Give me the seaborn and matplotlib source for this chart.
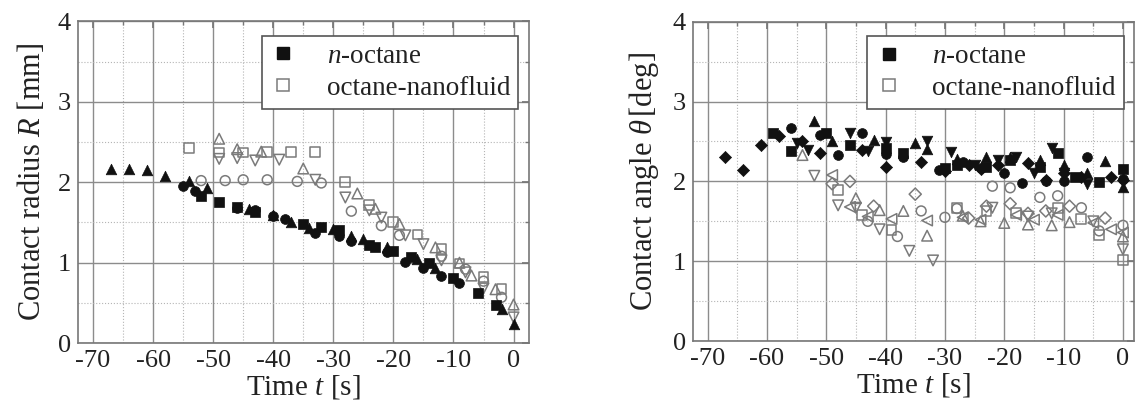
import numpy as np
import pandas as pd
import matplotlib.pyplot as plt
import matplotlib.ticker as mticker
from matplotlib.lines import Line2D
import seaborn as sns

# --- axis ticks ---
x_ticks = [-70, -60, -50, -40, -30, -20, -10, 0]
x_tick_labels = ['-70', '-60', '-50', '-40', '-30', '-20', '-10', '0']
y_ticks = [0, 1, 2, 3, 4]
y_tick_labels = ['0', '1', '2', '3', '4']

# --- contact radius R [mm], n-octane (three runs) ---
r_oct_tri_t = [-67, -64, -61, -58, -54, -51, -44, -40, -37, -34, -30, -27, -25, -21, -16, -13, -2, 0]
r_oct_tri = [2.16, 2.17, 2.15, 2.08, 2.02, 1.93, 1.67, 1.59, 1.50, 1.43, 1.42, 1.33, 1.30, 1.20, 1.04, 0.94, 0.43, 0.24]
r_oct_cir_t = [-55, -53, -46, -43, -40, -38, -33, -29, -27, -21, -18, -15, -12, -9]
r_oct_cir = [1.95, 1.89, 1.68, 1.65, 1.58, 1.54, 1.37, 1.33, 1.27, 1.13, 1.01, 0.94, 0.84, 0.75]
r_oct_sq_t = [-52, -49, -46, -43, -35, -32, -29, -24, -23, -20, -17, -14, -10, -6, -3]
r_oct_sq = [1.83, 1.75, 1.69, 1.63, 1.48, 1.44, 1.40, 1.22, 1.20, 1.15, 1.07, 0.99, 0.81, 0.62, 0.47]

# --- contact radius R [mm], octane-nanofluid (four runs) ---
r_nano_sq_t = [-54, -49, -45, -41, -37, -33, -28, -24, -20, -16, -12, -9, -5, -2]
r_nano_sq = [2.43, 2.37, 2.37, 2.38, 2.38, 2.38, 2.00, 1.72, 1.51, 1.35, 1.17, 0.99, 0.82, 0.67]
r_nano_tri_t = [-49, -46, -42, -35, -26, -23, -19, -13, -9, -7, -3, 0]
r_nano_tri = [2.54, 2.41, 2.38, 2.17, 1.86, 1.67, 1.48, 1.19, 1.00, 0.84, 0.67, 0.48]
r_nano_dn_t = [-49, -46, -43, -39, -33, -28, -24, -22, -18, -15, -12, -8, -5, 0]
r_nano_dn = [2.29, 2.30, 2.27, 2.28, 2.03, 1.81, 1.65, 1.56, 1.34, 1.23, 1.03, 0.88, 0.68, 0.32]
r_nano_cir_t = [-52, -48, -45, -41, -36, -32, -27, -22, -19, -12, -8, -5, -2]
r_nano_cir = [2.02, 2.02, 2.03, 2.03, 2.01, 1.99, 1.64, 1.46, 1.34, 1.08, 0.92, 0.77, 0.57]

# --- contact angle theta [deg], n-octane (five runs) ---
a_oct_dia_t = [-67, -64, -61, -58, -54, -51, -44, -40, -34, -30, -26, -24, -21, -16, -13, -10, -7, -2, 0]
a_oct_dia = [2.30, 2.14, 2.45, 2.57, 2.50, 2.36, 2.39, 2.18, 2.24, 2.13, 2.20, 2.16, 2.20, 2.23, 2.02, 2.10, 2.06, 2.05, 2.02]
a_oct_sq_t = [-59, -56, -50, -46, -40, -37, -30, -28, -23, -19, -14, -11, -8, -4, 0]
a_oct_sq = [2.61, 2.38, 2.60, 2.46, 2.42, 2.36, 2.17, 2.21, 2.18, 2.27, 2.18, 2.35, 2.06, 1.99, 2.16]
a_oct_cir_t = [-56, -51, -48, -44, -40, -37, -31, -27, -24, -20, -17, -13, -10, -6, 0]
a_oct_cir = [2.67, 2.58, 2.33, 2.60, 2.34, 2.31, 2.14, 2.24, 2.17, 2.11, 1.98, 2.00, 2.00, 2.31, 2.03]
a_oct_tri_t = [-52, -49, -42, -35, -33, -28, -23, -19, -14, -10, -6, -3, 0]
a_oct_tri = [2.75, 2.50, 2.52, 2.48, 2.40, 2.28, 2.31, 2.30, 2.27, 2.20, 2.10, 2.26, 1.93]
a_oct_dn_t = [-55, -53, -46, -43, -40, -33, -29, -25, -21, -18, -15, -12, -10, -6]
a_oct_dn = [2.48, 2.39, 2.60, 2.38, 2.49, 2.50, 2.37, 2.21, 2.27, 2.30, 2.10, 2.42, 2.10, 1.97]

# --- contact angle theta [deg], octane-nanofluid (six runs) ---
a_nano_dn_t = [-52, -48, -45, -41, -36, -32, -22, -16, -12, -5, 0]
a_nano_dn = [2.07, 1.70, 1.67, 1.40, 1.13, 1.01, 1.67, 1.56, 1.60, 1.50, 1.15]
a_nano_lt_t = [-49, -46, -43, -39, -33, -27, -24, -18, -15, -11, -5, -2, 0]
a_nano_lt = [2.08, 1.68, 1.56, 1.53, 1.51, 1.55, 1.52, 1.58, 1.52, 1.58, 1.48, 1.40, 1.36]
a_nano_dia_t = [-49, -46, -42, -35, -26, -23, -19, -16, -13, -9, -3]
a_nano_dia = [1.97, 2.00, 1.69, 1.84, 1.54, 1.69, 1.72, 1.60, 1.63, 1.69, 1.54]
a_nano_sq_t = [-48, -44, -39, -28, -23, -18, -11, -7, -4, 0]
a_nano_sq = [1.89, 1.58, 1.39, 1.67, 1.63, 1.60, 1.67, 1.53, 1.33, 1.02]
a_nano_tri_t = [-54, -45, -41, -37, -33, -27, -24, -20, -16, -12, -9, 0]
a_nano_tri = [2.33, 1.79, 1.64, 1.63, 1.32, 1.57, 1.50, 1.48, 1.46, 1.45, 1.49, 1.31]
a_nano_cir_t = [-43, -38, -34, -30, -28, -22, -19, -14, -11, -7, -4, 0]
a_nano_cir = [1.50, 1.31, 1.63, 1.55, 1.66, 1.94, 1.92, 1.80, 1.82, 1.67, 1.38, 1.45]


def runs(panel, fluid, pieces):
    frames = []
    for marker, t, v in pieces:
        frames.append(pd.DataFrame({'panel': panel, 'fluid': fluid, 'marker': marker, 't': t, 'v': v}))
    return frames


df = pd.concat(
    runs('R', 'oct', [('^', r_oct_tri_t, r_oct_tri), ('o', r_oct_cir_t, r_oct_cir), ('s', r_oct_sq_t, r_oct_sq)])
    + runs('R', 'nano', [('s', r_nano_sq_t, r_nano_sq), ('^', r_nano_tri_t, r_nano_tri),
                         ('v', r_nano_dn_t, r_nano_dn), ('o', r_nano_cir_t, r_nano_cir)])
    + runs('A', 'oct', [('D', a_oct_dia_t, a_oct_dia), ('s', a_oct_sq_t, a_oct_sq), ('o', a_oct_cir_t, a_oct_cir),
                        ('^', a_oct_tri_t, a_oct_tri), ('v', a_oct_dn_t, a_oct_dn)])
    + runs('A', 'nano', [('v', a_nano_dn_t, a_nano_dn), ('<', a_nano_lt_t, a_nano_lt), ('D', a_nano_dia_t, a_nano_dia),
                         ('s', a_nano_sq_t, a_nano_sq), ('^', a_nano_tri_t, a_nano_tri), ('o', a_nano_cir_t, a_nano_cir)]),
    ignore_index=True)

sns.set_theme(style='white')
plt.rcParams['font.family'] = 'serif'
plt.rcParams['font.serif'] = ['Liberation Serif', 'DejaVu Serif']
plt.rcParams['mathtext.fontset'] = 'custom'
plt.rcParams['mathtext.rm'] = 'Liberation Serif'
plt.rcParams['mathtext.it'] = 'Liberation Serif:italic'
plt.rcParams['axes.unicode_minus'] = False

BLACK = '#111111'
GRAY = '#7a7a7a'
sizes = {'s': 50, '^': 58, 'v': 58, '<': 58, 'o': 50, 'D': 38}

fig = plt.figure(figsize=(11.35, 4.09), dpi=100)
ax1 = fig.add_axes([0.0687, 0.161, 0.397, 0.787])
ax2 = fig.add_axes([0.6103, 0.166, 0.389, 0.781])

for ax, panel, xmax in [(ax1, 'R', 2.5), (ax2, 'A', 1.9)]:
    sub = df[df['panel'] == panel]
    # open gray markers first, black on top
    for mk, g in sub[sub['fluid'] == 'nano'].groupby('marker', sort=False):
        sns.scatterplot(data=g, x='t', y='v', marker=mk, s=sizes[mk], color=GRAY,
                        facecolor='none', edgecolor=GRAY, linewidth=1.1, ax=ax, zorder=3)
    for mk, g in sub[sub['fluid'] == 'oct'].groupby('marker', sort=False):
        sns.scatterplot(data=g, x='t', y='v', marker=mk, s=sizes[mk], color=BLACK,
                        edgecolor=BLACK, linewidth=0.5, ax=ax, zorder=4)

    ax.set_xlim(-72.5, xmax)
    ax.set_ylim(0, 4)
    ax.set_xticks(x_ticks, labels=x_tick_labels, fontsize=19, fontfamily='Liberation Serif')
    ax.set_yticks(y_ticks, labels=y_tick_labels, fontsize=19, fontfamily='Liberation Serif')
    ax.xaxis.set_minor_locator(mticker.MultipleLocator(5))
    ax.yaxis.set_minor_locator(mticker.MultipleLocator(0.5))
    ax.grid(which='major', color='#8c8c8c', linewidth=1.0, linestyle='-', zorder=0)
    ax.grid(which='minor', color='#b5b5b5', linewidth=0.8, linestyle=':', zorder=0)
    ax.set_axisbelow(True)
    for sp in ax.spines.values():
        sp.set_color('#777777')
        sp.set_linewidth(1.2)
    ax.tick_params(which='both', direction='in', top=True, right=True, color='#777777')
    ax.tick_params(which='major', length=5, labelcolor='#222222', pad=5)
    ax.tick_params(which='minor', length=3)
    ax.set_xlabel('Time $t$ [s]', fontsize=21, color='#222222', labelpad=1)

    handles = [Line2D([], [], marker='s', linestyle='', color=BLACK, markersize=9),
               Line2D([], [], marker='s', linestyle='', markerfacecolor='none',
                      markeredgecolor=GRAY, markeredgewidth=1.1, markersize=9)]
    leg = ax.legend(handles, ['$n$-octane', 'octane-nanofluid'], loc='upper right',
                    bbox_to_anchor=(0.977, 0.955), fontsize=19.5, frameon=True, fancybox=False,
                    framealpha=1, edgecolor='#555555', handlelength=1.0, handletextpad=1.1,
                    borderpad=0.3, labelspacing=0.25, borderaxespad=0)
    leg.get_frame().set_linewidth(1.2)
    for txt in leg.get_texts():
        txt.set_color('#222222')

ax1.set_ylabel('Contact radius $R$ [mm]', fontsize=22, color='#222222', labelpad=8)
ax2.set_ylabel(r'Contact angle $\theta\,$[deg]', fontsize=22, color='#222222', labelpad=8)

fig.savefig('out.png', dpi=100)
